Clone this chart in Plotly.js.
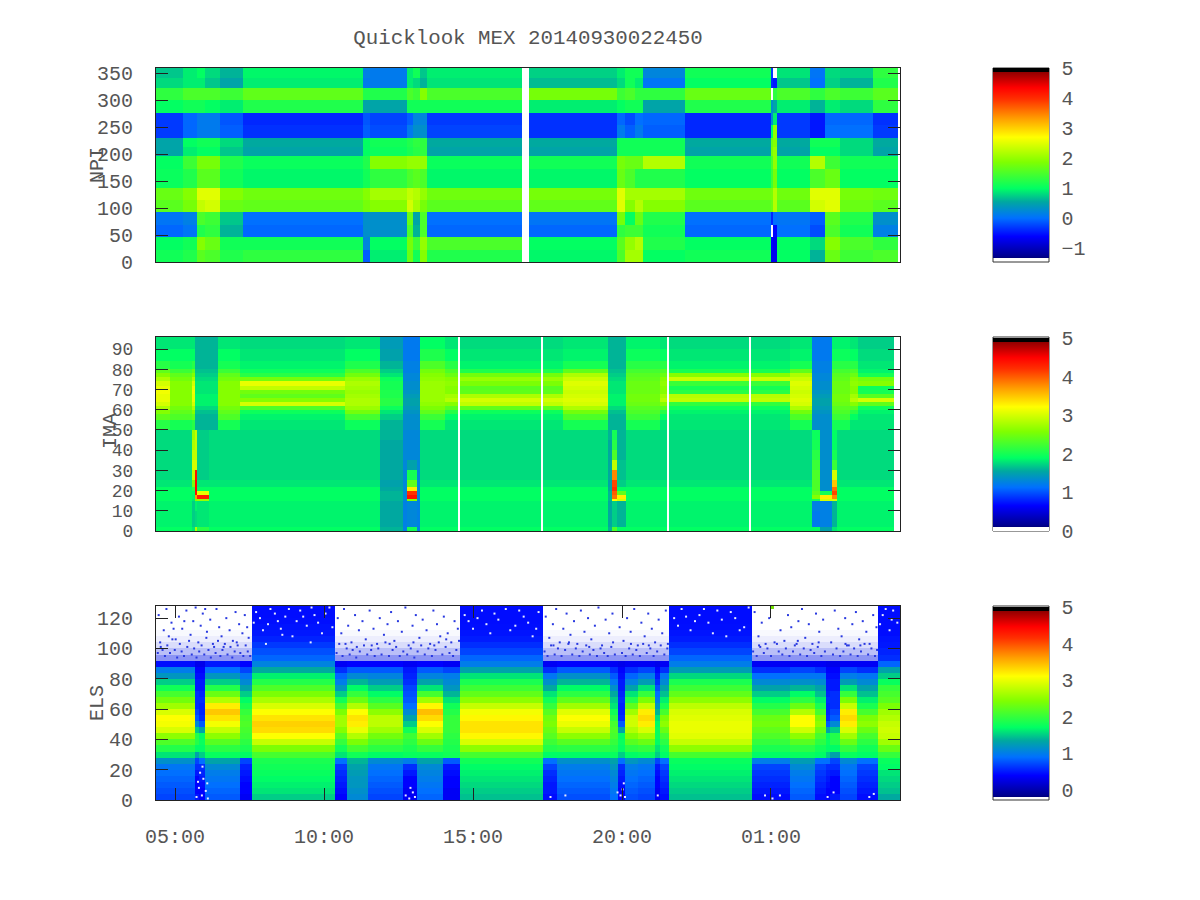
<!DOCTYPE html>
<html><head><meta charset="utf-8">
<script src="https://cdn.plot.ly/plotly-3.0.1.min.js"></script>
<style>html,body{margin:0;padding:0;background:#fff}</style></head>
<body><div id="chart" style="width:1200px;height:900px"></div>
<script>
const n = null;
const chartTitle = 'Quicklook MEX 20140930022450';
const timeTicks = [5, 10, 15, 20, 25];
const timeLabels = ['05:00', '10:00', '15:00', '20:00', '01:00'];

/* ---------- NPI: hours of column edges, channel edges, rows top first ---------- */
const npiTimes = [4.36,5.27,5.74,6.01,6.51,7.28,11.31,11.54,12.79,12.99,13.22,13.46,16.64,16.88,19.83,20.10,20.44,20.70,22.11,25.00,25.07,25.20,26.31,26.81,27.32,28.42,29.26,29.33];
const npiChannels = [0,23,46,69,92,115,138,173,197,214,231,254,277,300,323,341,360];
const npiRows = [
[.7,.9,1.0,.8,.6,.95,.15,.1,.9,1.1,.7,.9,n,.75,.9,1.1,1.1,.2,1.1,-.3,n,.85,.05,.8,.75,1.3,n],
[.8,.9,.9,.7,.5,.9,.1,.1,.9,.8,.6,.85,n,.65,.8,1.1,.9,.05,1.0,-.4,-.5,.7,.0,.75,.6,1.2,n],
[1.3,1.5,1.5,1.5,1.4,1.65,1.2,1.2,1.5,1.4,1.9,1.5,n,1.8,1.4,1.5,1.3,1.3,1.7,n,1.3,1.5,1.3,1.5,1.4,1.6,n],
[1.0,1.1,1.1,1.0,.9,1.2,.5,.5,1.1,1.1,1.1,1.1,n,.9,1.0,1.1,1.1,.5,1.2,.3,.5,.9,.6,.9,.8,1.3,n],
[-.3,-.05,.1,.1,-.15,-.4,-.15,-.25,-.1,.2,.2,-.3,n,-.35,-.05,-.2,0,-.05,-.4,.3,.9,-.3,-.5,-.05,-.05,-.35,n],
[-.3,-.05,.1,.1,-.1,-.35,-.1,-.2,.1,.3,.3,-.25,n,-.35,.1,-.1,.1,-.1,-.4,1.0,2.0,-.3,-.5,0,0,-.3,n],
[.5,1.0,1.1,1.1,.8,.55,1.0,1.1,1.2,1.3,1.3,.55,n,.55,1.1,1.1,1.1,1.1,.55,1.7,1.9,.55,1.1,1.1,.8,.55,n],
[.5,.9,1.0,1.0,.7,.5,1.0,1.05,1.15,1.25,1.3,.5,n,.5,1.1,1.1,1.1,1.1,.5,1.8,2.0,.5,1.0,1.0,.8,.5,n],
[1.0,1.4,1.8,1.8,1.2,1.05,1.2,1.9,2.0,2.0,2.0,1.05,n,1.1,1.8,1.7,1.7,2.2,1.1,1.5,2.0,1.1,2.2,1.4,1.1,1.1,n],
[1.05,1.2,1.6,1.6,1.1,.95,1.1,1.3,1.5,1.6,1.5,.95,n,.95,1.7,1.5,1.2,1.2,1.0,1.4,1.8,1.0,1.5,1.7,1.0,1.0,n],
[1.7,1.9,2.5,2.5,1.9,1.75,1.9,2.1,2.3,2.2,2.0,1.75,n,1.8,2.5,2.1,2.1,2.1,1.75,1.8,2.2,1.75,2.5,2.5,1.8,1.75,n],
[1.6,1.8,2.3,2.4,1.7,1.65,1.8,1.9,2.4,2.1,1.8,1.6,n,1.65,2.5,1.9,2.2,1.9,1.6,1.7,2.2,1.6,2.4,2.5,1.7,1.6,n],
[.05,.15,1.5,1.4,.7,.0,.3,.3,1.7,.5,1.5,.0,n,.05,1.8,1.0,1.7,1.2,.0,-.4,.0,.05,-.1,1.6,1.2,.3,n],
[-.05,.05,1.2,1.3,.6,-.05,.3,.3,1.5,.6,1.5,-.05,n,-.05,1.3,1.4,1.4,1.1,-.05,n,-.6,0,-.2,1.5,1.1,.15,n],
[1.0,1.1,1.9,1.7,1.1,1.1,.2,1.0,1.8,1.4,2.0,1.5,n,1.0,1.6,2.0,2.2,1.2,1.0,-.6,-.7,1.0,.8,1.9,1.5,1.3,n],
[1.1,1.2,1.6,1.5,1.2,1.3,-.1,.9,1.7,1.1,1.9,1.2,n,.95,1.5,2.1,2.1,1.0,1.1,-.7,-.7,1.0,.6,1.7,1.4,1.5,n]
];

/* ---------- IMA: spectra read per time block, lower rows + upper rows ---------- */
const imaTimes = [4.36,4.83,5.57,5.67,5.74,6.14,6.44,7.18,10.70,11.88,12.65,12.79,13.12,13.22,14.06,14.50,14.56,17.28,17.35,18.02,19.53,19.66,19.83,20.13,21.28,21.51,21.58,24.26,24.33,25.64,26.38,26.64,27.05,27.21,27.65,27.92,29.13,29.33];
const imaChannels = [0,2,10,15,16,18,20,22,25,30,35,40,45,50,55,58,60,62,64,66,68,70,72,74,76,78,80,84,90,96];
const lowBase = [1.9,1.85,1.85,1.9,1.9,1.9,1.9,1.8,1.75,1.75,1.75,1.75,1.75];
const lowDim = [1.6,1.55,1.55,1.6,1.6,1.6,1.55,1.5,1.55,1.55,1.55,1.55,1.6];
const lowBlue = [1.25,1.25,1.25,1.3,1.3,1.3,1.3,1.3,1.3,1.3,1.3,1.3,1.3];
const lowLine = [1.8,1.7,1.7,1.8,1.85,1.9,2.1,2.5,2.9,3.0,2.9,2.8,2.7];
const lowHot1 = [2.8,1.75,1.85,2.6,3.7,4.4,4.5,4.5,4.4,3.0,2.9,2.9,2.9];
const lowTail = [2.1,1.8,1.8,2.7,4.3,3.1,1.9,1.8,1.7,1.7,1.7,1.7,1.7];
const lowHot2 = [2.0,1.3,1.3,2.6,4.4,4.2,3.3,2.4,2.0,1.5,1.3,1.3,1.3];
const lowHot3 = [2.3,1.7,1.7,3.2,3.9,4.0,4.2,4.1,3.8,2.9,2.3,2.1,2.0];
const lowTail3 = [1.9,1.6,1.6,3.0,3.3,2.4,1.9,1.7,1.65,1.65,1.6,1.6,1.6];
const lowArm = [1.9,1.2,1.25,2.0,2.6,2.4,2.3,2.3,2.3,2.2,2.1,2.0,1.95];
const lowU = [1.5,1.25,1.25,3.0,3.3,2.0,1.35,1.35,1.35,1.35,1.35,1.35,1.35];
const lowSpike = [1.8,1.6,1.6,3.0,3.8,4.1,3.9,3.5,3.0,2.2,2.0,1.9,1.9];
const upD1 = [2.1,2.4,2.6,2.8,3.0,3.1,3.1,3.15,3.1,3.0,2.8,2.6,2.4,2.1,1.9,1.8];
const upD2 = [2.0,2.3,2.4,2.5,2.6,2.6,2.6,2.6,2.6,2.6,2.5,2.4,2.2,2.0,1.9,1.8];
const upDouble = [1.8,1.85,1.95,2.3,3.0,2.6,2.4,2.5,2.9,3.1,2.5,2.1,1.95,1.85,1.8,1.75];
const upDiffuse = [1.95,2.25,2.5,2.7,2.8,2.8,2.75,2.7,2.75,2.8,2.7,2.5,2.3,2.05,1.9,1.8];
const upFade = [1.6,1.7,1.8,1.95,2.1,2.1,2.05,2.05,2.0,2.0,1.95,1.8,1.7,1.6,1.5,1.45];
const upDip = [1.35,1.35,1.4,1.45,1.5,1.5,1.45,1.4,1.35,1.35,1.3,1.3,1.25,1.25,1.2,1.2];
const upD4 = [2.0,2.2,2.4,2.55,2.65,2.7,2.7,2.7,2.7,2.7,2.65,2.6,2.5,2.3,2.05,1.9];
const upD5 = [1.8,1.9,2.1,2.35,2.6,2.85,2.75,2.6,2.6,2.65,2.6,2.45,2.3,2.1,1.9,1.8];
const upWide = [1.8,1.85,1.95,2.4,2.9,3.0,2.8,2.4,2.35,2.55,2.7,2.5,2.05,1.85,1.8,1.75];
const upD3 = [2.0,2.3,2.5,2.8,3.0,3.05,3.0,2.95,3.0,3.05,2.95,2.8,2.4,2.0,1.85,1.8];
const upWeak = [2.0,2.2,2.3,2.35,2.45,2.5,2.5,2.45,2.45,2.45,2.4,2.35,2.25,2.1,1.95,1.85];
const upTeal = [1.6,1.6,1.65,1.75,1.85,1.85,1.85,1.8,1.8,1.8,1.75,1.7,1.65,1.6,1.6,1.6];
const upNarrow = [1.8,1.8,1.85,1.95,2.15,2.9,2.85,2.1,2.0,2.2,2.95,2.6,2.0,1.85,1.8,1.75];
const upEnd = [1.8,1.8,1.85,1.95,2.4,3.0,2.35,2.0,1.95,2.6,2.5,2.0,1.85,1.8,1.75,1.7];
const imaBlocks = [
[lowBase,upD1],[lowBase,upD2],[lowLine,upD1],[lowHot1,upTeal],[lowTail,upTeal],[lowBase,upTeal],[lowBase,upD2],[lowBase,upDouble],
[lowBase,upDiffuse],[lowDim,upFade],[lowBlue,upDip],[lowHot2,upDip],[lowBlue,upDip],[lowBase,upD4],[lowBase,upD5],n,
[lowBase,upWide],n,[lowBase,upWide],[lowBase,upD3],[lowDim,upTeal],[lowHot3,upTeal],[lowTail3,upTeal],[lowBase,upWeak],[lowBase,upD5],n,
[lowBase,upNarrow],n,[lowBase,upNarrow],[lowBase,upD3],[lowArm,upDip],[lowU,upDip],[lowSpike,upWeak],[lowBase,upWeak],[lowBase,upD5],[lowBase,upEnd],n
];

/* ---------- ELS: spectra per time block, from energy step 0 upward ---------- */
const elsTimes = [4.36,5.67,5.81,6.01,7.18,7.58,10.37,10.77,11.48,12.65,13.12,13.99,14.56,17.35,17.82,19.60,19.87,20.10,20.54,21.11,21.28,21.58,24.36,25.64,26.48,26.85,26.98,27.32,27.89,28.59,29.33];
const elsChannels = [0,4,8,12,16,20,24,28,32,36,40,44,48,52,56,60,64,68,72,76,80,84,88,92,96,100,104,108,112,116,120,124,128];
const s1 = [1.5,1.6,1.65,1.7,1.75,1.8,1.85,2.1,2.4,2.8,3.1,3.3,3.35,3.25,3.1,2.9,2.65,2.4,2.15,1.9,1.65,1.35,1.05,.85,.75,.65,.55,.5,.48,.46,.45,.45];
const s2 = [1.45,1.5,1.55,1.6,1.65,1.7,1.8,2.1,2.5,2.9,3.15,3.25,3.25,3.15,3.05,2.8,2.5,2.25,2.05,1.85,1.6,1.3,1.0,.85,.7,.6,.52,.48,.46,.45,.45,.45];
const s3 = [1.45,1.5,1.55,1.6,1.65,1.7,1.75,2.1,2.5,2.8,2.95,3.0,3.0,2.95,2.9,2.75,2.5,2.25,2.05,1.85,1.55,1.25,1.0,.85,.7,.6,.52,.48,.46,.45,.45,.45];
const s4 = [1.35,1.45,1.5,1.55,1.6,1.7,1.75,2.0,2.3,2.6,2.8,2.85,2.8,2.7,2.6,2.4,2.2,2.1,2.0,1.75,1.5,1.3,.85,.6,.55,.5,.48,.45,.45,.45,.45,.45];
const m1 = [.7,.75,.8,.85,.9,.95,1.15,1.6,1.9,2.15,2.5,2.9,3.05,3.1,2.9,2.6,2.35,2.1,1.8,1.5,1.2,1.0,.45];
const m2 = [.8,.85,.9,.95,1.0,1.1,1.3,1.75,1.95,2.2,2.5,2.8,3.05,3.25,3.4,3.2,2.7,2.3,1.9,1.5,1.2,.9,.5];
const m3 = [.35,.4,.4,.45,.5,.55,.7,1.7,1.85,1.95,2.05,2.1,2.15,2.1,2.0,1.85,1.7,1.5,1.3,1.1,.95,.7,.4];
const m4 = [.4,.45,.5,.55,.6,.65,.9,1.6,1.8,2.0,2.2,2.45,2.6,2.6,2.4,2.1,1.8,1.5,1.2,1.0,.85,.6,.35];
const m5 = [1.1,1.15,1.2,1.2,1.25,1.3,1.4,1.8,2.1,2.4,2.7,3.0,3.2,3.25,3.1,2.7,2.3,2.0,1.7,1.4,1.1,.8,.4];
const m6 = [.7,.75,.8,.85,.9,.95,1.1,1.7,1.95,2.15,2.35,2.6,2.75,2.75,2.5,2.2,1.95,1.7,1.5,1.25,1.05,.8,.4];
const m7 = [.85,.9,.95,1.0,1.05,1.1,1.3,1.75,2.0,2.3,2.6,2.9,3.1,3.3,3.45,3.15,2.6,2.1,1.6,1.3,1.05,.8,.4];
const m8 = [.35,.35,.4,.4,.45,.5,.8,1.8,1.85,1.9,1.95,2.0,2.0,2.0,1.9,1.8,1.6,1.4,1.2,1.1,1.0,.7,.35];
const m9 = [.45,.5,.5,.55,.6,.7,.9,1.7,1.9,2.05,2.2,2.3,2.4,2.35,2.2,2.0,1.8,1.6,1.35,1.15,.95,.6,.35];
const m10 = [.75,.8,.85,.9,.95,1.0,1.15,1.7,1.95,2.2,2.5,2.8,3.0,3.1,2.95,2.6,2.25,1.95,1.7,1.4,1.15,.8,.4];
const m12 = [.9,.95,1,1.05,1.1,1.2,1.3,1.75,1.9,2.0,2.1,2.15,2.1,1.95,1.8,1.6,1.5,1.35,1.15,.95,.8,.6,.35];
const m13 = [.75,.8,.85,.9,.95,1.0,1.2,1.7,1.95,2.2,2.45,2.7,2.85,2.85,2.6,2.25,1.9,1.6,1.3,1.05,.85,.6,.35];
const m14 = [.7,.75,.8,.85,.9,.95,1.1,1.75,2,2.3,2.6,2.9,3.2,3.3,3.2,2.8,2.4,2.0,1.6,1.25,1.0,.7,.35];
const m15 = [.45,.5,.55,.6,.65,.7,.9,1.7,1.8,1.95,2.1,2.3,2.5,2.4,2.1,1.85,1.65,1.45,1.3,1.1,.95,.6,.35];
const m16 = [.45,.5,.55,.6,.65,.7,1.0,1.7,1.85,2.0,2.15,2.25,2.35,2.3,2.1,1.9,1.7,1.5,1.3,1.1,.9,.6,.35];
const m17 = [.8,.85,.9,.95,1.0,1.1,1.25,1.75,1.95,2.2,2.5,2.85,3.1,3.1,2.7,2.3,1.95,1.7,1.4,1.15,.95,.7,.35];
const dip1 = [.5,.4,.4,.4,.5,.6,.7,1.3,1.7,1.9,1.9,1.5,1.1,.8,.7,.6,.6,.6,.5,.5,.45,.4,.3];
const dip2 = [.35,.35,.4,.4,.5,.6,1.0,1.75,1.85,1.95,2.05,1.8,1.5,1.3,1.1,.9,.8,.75,.7,.6,.55,.5,.35];
const dip3 = [.4,.4,.45,.5,.55,.6,.9,1.5,1.7,1.75,1.7,1.3,.8,.6,.55,.55,.6,.55,.5,.5,.45,.4,.3];
const dip4 = [.35,.35,.4,.4,.45,.5,.7,1.5,1.6,1.7,1.75,1.75,1.7,1.6,1.4,1.2,1.0,.9,.75,.6,.5,.4,.3];
const elsBlocks = [m1,dip1,dip3,m2,m3,s1,m4,m5,m6,dip2,m7,m8,s2,m9,m10,m12,dip3,m13,m14,dip4,m15,s3,m16,m17,m15,dip3,dip1,m14,m15,s4];
/* pale fringe above 92: share of the blue speckle seen in quiet blocks */
const elsFringeRows = [.5,.3,.16,.08,.03];
const elsSpecks = [[4.45,122],[4.62,112],[4.71,126],[4.88,117],[5.02,106],[5.13,121],[5.24,113],[5.38,125],[5.52,109],[5.61,118],[5.78,104],[5.86,115],[5.93,123],[6.07,111],[6.18,119],[6.27,103],[6.39,126],[6.48,114],[6.56,108],[6.72,120],[6.83,112],[6.94,105],[7.03,124],[7.15,116],[7.26,110],[7.34,122],[7.47,107],[4.52,101],[4.79,108],[5.31,118],[5.69,127],[6.01,126],[6.63,101],[7.1,102],[7.42,114],[4.95,113],
[10.46,120],[10.58,110],[10.67,126],[10.81,115],[10.92,104],[11.04,122],[11.17,112],[11.29,118],[11.4,106],[11.53,125],[11.66,113],[11.78,103],[11.87,120],[12.01,109],[12.13,116],[12.25,124],[12.36,105],[12.48,118],[12.61,111],[12.73,127],[12.84,102],[12.97,115],[13.08,122],[13.2,107],[13.31,119],[13.44,112],[13.56,103],[13.67,125],[13.79,116],[13.9,108],[14.02,121],[14.15,110],[14.27,104],[14.38,118],[14.49,113],[10.72,103],[11.1,101],[11.6,102],[12.2,103],[13.0,104],[13.7,102],[14.1,106],
[17.44,121],[17.56,107],[17.68,116],[17.79,126],[17.91,104],[18.03,113],[18.14,123],[18.27,109],[18.39,118],[18.5,103],[18.62,125],[18.74,111],[18.86,120],[18.97,106],[19.09,115],[19.21,127],[19.33,102],[19.45,119],[19.57,110],[19.68,123],[19.92,114],[20.05,105],[20.17,120],[20.29,111],[20.41,126],[20.53,102],[20.65,117],[20.76,108],[20.88,123],[21.0,113],[21.11,104],[21.23,119],[21.35,110],[21.47,125],[21.54,103],[17.7,102],[18.2,103],[18.9,101],[19.7,104],[20.3,103],[20.9,102],
[24.45,124],[24.58,108],[24.69,117],[24.82,103],[24.94,120],[25.32,112],[25.45,105],[25.57,122],[25.68,114],[25.8,102],[25.92,118],[26.04,126],[26.15,107],[26.27,116],[26.39,103],[26.51,123],[26.62,111],[26.75,119],[27.02,104],[27.14,125],[27.26,113],[27.37,108],[27.49,120],[27.61,102],[27.73,116],[27.85,124],[27.96,106],[28.08,118],[28.2,111],[28.31,103],[28.43,122],[28.54,114],[24.6,102],[25.2,103],[25.9,105],[26.6,104],[27.5,103],[28.0,102]];
/* denser stipple near the edge of the solid band */
const elsEdgeSpecks = [[4.42,97],[4.5,104],[4.58,99],[4.66,95],[4.74,102],[4.83,97],[4.91,106],[4.99,99],[5.07,94],[5.16,103],[5.22,98],[5.3,95],[5.41,101],[5.47,105],[5.56,96],[5.64,100],[5.72,94],[5.81,98],[5.89,102],[5.98,96],[6.05,107],[6.12,99],[6.2,94],[6.31,101],[6.36,97],[6.44,105],[6.52,95],[6.59,99],[6.67,103],[6.76,96],[6.86,101],[6.92,94],[7.0,98],[7.07,104],[7.19,97],[7.29,95],[7.37,102],[7.44,98],[7.52,95],
[10.42,97],[10.51,103],[10.62,95],[10.76,100],[10.86,96],[10.96,99],[11.08,94],[11.2,98],[11.34,102],[11.45,96],[11.58,99],[11.7,95],[11.82,100],[11.93,96],[12.06,104],[12.18,95],[12.3,99],[12.42,101],[12.54,95],[12.66,98],[12.79,96],[12.91,100],[13.03,94],[13.14,98],[13.26,102],[13.38,96],[13.5,100],[13.62,95],[13.74,99],[13.85,104],[13.97,96],[14.08,101],[14.21,97],[14.33,95],[14.44,99],[14.53,105],
[17.4,98],[17.5,95],[17.62,102],[17.74,96],[17.85,100],[17.97,95],[18.09,99],[18.22,104],[18.33,96],[18.45,100],[18.57,95],[18.68,98],[18.8,102],[18.92,96],[19.04,99],[19.16,95],[19.28,100],[19.4,97],[19.52,95],[19.64,101],[19.76,96],[20.0,97],[20.12,95],[20.24,100],[20.36,96],[20.48,99],[20.6,95],[20.71,103],[20.83,97],[20.95,100],[21.06,95],[21.18,98],[21.3,102],[21.42,96],[21.52,100],
[24.4,98],[24.52,95],[24.64,101],[24.76,97],[24.88,100],[25.0,95],[25.12,104],[25.26,98],[25.38,96],[25.5,100],[25.62,95],[25.74,98],[25.86,103],[25.98,96],[26.1,100],[26.21,95],[26.33,99],[26.45,97],[26.57,101],[26.69,95],[26.81,98],[27.08,96],[27.2,100],[27.32,95],[27.43,98],[27.55,102],[27.67,96],[27.79,100],[27.91,95],[28.02,98],[28.14,103],[28.26,96],[28.37,100],[28.49,95],[28.56,99]];
const elsDropouts = [[7.72,124],[7.95,112],[8.2,126],[8.45,118],[8.7,121],[8.94,108],[9.2,125],[9.42,115],[9.68,122],[9.93,110],[10.18,127],[8.05,103],[8.6,109],[9.55,104],[7.64,117],[7.85,120],[8.12,116],[8.35,123],[8.55,113],[8.82,126],[9.08,118],[9.3,121],[9.58,127],[9.8,117],[10.05,123],[10.28,114],
[14.72,122],[15.0,113],[15.3,125],[15.58,110],[15.85,119],[16.1,126],[16.42,115],[16.7,121],[17.0,108],[17.2,124],[14.85,118],[15.15,120],[15.45,116],[15.72,123],[16.25,112],[16.55,125],[16.85,117],[17.12,113],
[21.75,120],[22.0,126],[22.3,112],[22.6,122],[22.9,117],[23.2,125],[23.5,108],[23.8,120],[24.1,114],[24.25,127],[21.88,115],[22.15,121],[22.45,118],[22.75,126],[23.05,110],[23.35,119],[23.65,124],[23.95,112],
[28.75,122],[28.98,112],[29.1,125],[29.24,117],[28.66,116],[28.85,126],[29.05,119],
[5.72,2],[5.8,8],[5.9,3],[5.95,14],[6.03,6],[6.1,1],[5.84,18],[5.77,12],[5.92,22],[6.08,11],[12.74,3],[12.86,1],[12.98,5],[13.05,2],[12.9,8],[19.95,3],[20.02,7],[20.1,2],[19.85,5],[20.06,11],[24.8,3],[25.05,1],[25.3,3],[26.9,2],[27.1,5],[28.3,2],[28.45,4],[21.2,3],[17.6,2],[18.1,3]];
const elsTopMark = [[25.05,127]];

const scale = [[0,'#000078'],[.01,'#000090'],[.113,'#0000ff'],[.21,'#0070ff'],[.296,'#00a8a0'],[.366,'#00ff64'],[.505,'#80ff00'],[.636,'#ffff00'],[.732,'#ffa000'],[.836,'#ff3000'],[.897,'#ff0000'],[.967,'#a00000'],[.979,'#900000'],[.98,'#000000'],[1,'#000000']];
/* IMA colour bar runs to 0, with an unused white foot under its lowest colour */
const imaScale = [[0,'#ffffff'],[.02,'#ffffff']].concat(scale.map(s => [.0201 + .9799 * s[0], s[1]]));

const monoFont = {family:'"Liberation Mono", monospace', size:20, color:'#555'};
const W = 1200, H = 900;
const py = v => 1 - v / H;
const blockRow = (b, i) => b === n ? n : b[0].concat(b[1])[i];

const imaZ = imaChannels.slice(1).map((_, i) => imaBlocks.map(b => blockRow(b, i)));
const elsZ = elsChannels.slice(1).map((_, i) => elsBlocks.map(b => b[i] === undefined ? n : b[i]));
const quiet = elsBlocks.map(b => b.length < 32);
const elsFringeZ = elsChannels.slice(1).map((_, i) => quiet.map(q => (q && i >= 23 && i - 23 < elsFringeRows.length) ? elsFringeRows[i - 23] : n));

function cbar(top, bottom, ticks){
  return {x:993/W, xanchor:'left', xpad:0, ypad:0, y:py(top), yanchor:'top', len:(bottom-top)/H, lenmode:'fraction',
    thickness:56, thicknessmode:'pixels', tickmode:'array', tickvals:ticks, ticktext:ticks.map(t => t < 0 ? '\u2212' + (-t) : String(t)),
    ticks:'outside', ticklen:9, tickcolor:'rgba(0,0,0,0)', tickfont:monoFont, outlinewidth:0, borderwidth:0};
}
const speckMarker = {symbol:'square', size:2, color:'#2838e0', line:{width:0}};
const traces = [
  {type:'heatmap', x:npiTimes, y:npiChannels, z:npiRows.slice().reverse(), xaxis:'x', yaxis:'y', colorscale:scale, zmin:-1.33, zmax:5, hoverongaps:false,
   colorbar:cbar(68,258,[-1,0,1,2,3,4,5])},
  {type:'heatmap', x:imaTimes, y:imaChannels, z:imaZ, xaxis:'x2', yaxis:'y2', colorscale:imaScale, zmin:0, zmax:5, hoverongaps:false,
   colorbar:cbar(338,531,[0,1,2,3,4,5])},
  {type:'heatmap', x:elsTimes, y:elsChannels, z:elsZ, xaxis:'x3', yaxis:'y3', colorscale:scale, zmin:-.19, zmax:5, hoverongaps:false,
   colorbar:cbar(607,797,[0,1,2,3,4,5])},
  {type:'heatmap', x:elsTimes, y:elsChannels, z:elsFringeZ, xaxis:'x3', yaxis:'y3', zmin:0, zmax:1, showscale:false, hoverongaps:false,
   colorscale:[[0,'#ffffff'],[1,'#1828e8']]},
  {type:'scatter', mode:'markers', x:elsSpecks.map(p => p[0]), y:elsSpecks.map(p => p[1]), xaxis:'x3', yaxis:'y3', showlegend:false, marker:speckMarker},
  {type:'scatter', mode:'markers', x:elsEdgeSpecks.map(p => p[0]), y:elsEdgeSpecks.map(p => p[1]), xaxis:'x3', yaxis:'y3', showlegend:false, marker:speckMarker},
  {type:'scatter', mode:'markers', x:elsDropouts.map(p => p[0]), y:elsDropouts.map(p => p[1]), xaxis:'x3', yaxis:'y3', showlegend:false,
   marker:{symbol:'square', size:2, color:'#e8ecff', line:{width:0}}},
  {type:'scatter', mode:'markers', x:elsTopMark.map(p => p[0]), y:elsTopMark.map(p => p[1]), xaxis:'x3', yaxis:'y3', showlegend:false,
   marker:{symbol:'square', size:3, color:'#70e000', line:{width:0}}}
];

function xAxis(anchor, labelled){
  return {domain:[156/W, 900/W], range:[4.36, 29.33], anchor, tickmode:'array', tickvals:timeTicks, ticktext:timeLabels,
    ticks:labelled ? 'inside' : '', ticklen:12, tickcolor:'#222', tickwidth:1, showticklabels:labelled, ticklabelstandoff:18,
    showgrid:false, zeroline:false, showline:true, linecolor:'#222', linewidth:1, mirror:labelled ? 'ticks' : true, tickfont:monoFont};
}
function yAxis(anchor, top, bottom, maxV, ticks, fontSize){
  return {domain:[py(bottom), py(top)], range:[0, maxV], anchor, tickmode:'array', tickvals:ticks, ticks:'inside', ticklen:12,
    tickcolor:'#222', tickwidth:1, showgrid:false, zeroline:false, showline:true, linecolor:'#222', linewidth:1, mirror:'ticks',
    ticklabelstandoff:18, tickfont:{...monoFont, size:fontSize}};
}
const frame = (top, bottom) => ({type:'rect', xref:'paper', yref:'paper', x0:993/W, x1:1049/W, y0:py(bottom), y1:py(top), line:{color:'#333', width:1}, layer:'above'});
const axisName = (text, x, y) => ({text, xref:'paper', yref:'paper', x:x/W, y:py(y), xanchor:'center', yanchor:'middle', textangle:-90, showarrow:false, font:monoFont});
const layout = {
  width:W, height:H, margin:{l:0, r:0, t:0, b:0}, paper_bgcolor:'#fff', plot_bgcolor:'#fff', showlegend:false,
  font:monoFont,
  title:{text:chartTitle, x:528/W, xanchor:'center', y:py(37), yanchor:'middle', font:{...monoFont, size:20.8}},
  xaxis:xAxis('y', false), xaxis2:xAxis('y2', false), xaxis3:xAxis('y3', true),
  yaxis:yAxis('x', 68, 262, 360, [0,50,100,150,200,250,300,350], 20),
  yaxis2:yAxis('x2', 337, 531, 96, [0,10,20,30,40,50,60,70,80,90], 18),
  yaxis3:yAxis('x3', 606, 800, 128, [0,20,40,60,80,100,120], 20),
  annotations:[axisName('NPI', 97, 165), axisName('IMA', 110, 431), axisName('ELS', 97, 703)],
  shapes:[frame(68,262), frame(337,531), frame(606,800)]
};
Plotly.newPlot('chart', traces, layout, {displayModeBar:false, responsive:false});
</script></body></html>
